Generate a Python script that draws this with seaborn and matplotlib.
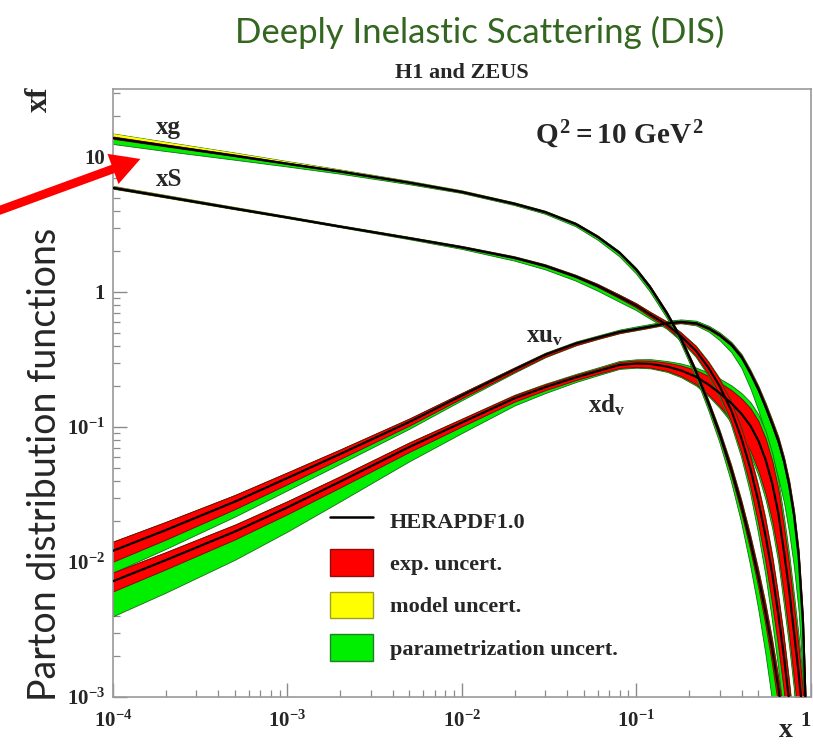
import numpy as np
import pandas as pd
import matplotlib
matplotlib.use("Agg")
import matplotlib.pyplot as plt
import seaborn as sns
from matplotlib.lines import Line2D
from matplotlib.patches import Patch
from matplotlib.ticker import LogLocator, NullFormatter

# ---- HERAPDF1.0 parton distributions at Q^2 = 10 GeV^2 ----
x_grid = [1e-4, 2e-4, 5e-4, 1e-3, 2e-3, 5e-3, 0.01, 0.02, 0.03, 0.045, 0.06,
          0.08, 0.1, 0.12, 0.15, 0.18, 0.22, 0.26, 0.3, 0.35, 0.4, 0.45, 0.5,
          0.55, 0.6, 0.65, 0.7, 0.75, 0.8, 0.85, 0.9, 0.95]

# gluon
xg_central = [13.8, 12.1, 10.2, 8.9, 7.8, 6.45, 5.5, 4.5, 3.9, 3.18, 2.56,
              1.95, 1.46, 1.08, 0.69, 0.45, 0.255, 0.148, 0.089, 0.048, 0.026,
              0.0141, 0.0077, 0.0042, 0.00224, 0.00117, 0.0006, 0.0003,
              0.00015, 7e-5, 3e-5, 1e-5]
xg_exp = [0.02, 0.018, 0.015, 0.013, 0.012, 0.012, 0.012, 0.012, 0.012,
          0.013, 0.014, 0.016, 0.02, 0.023, 0.027, 0.03, 0.04, 0.05, 0.06,
          0.08, 0.1, 0.12, 0.14, 0.17, 0.2, 0.23, 0.26, 0.3, 0.32, 0.35, 0.35,
          0.35]
xg_mod_dn = [0.01, 0.01, 0.01, 0.01, 0.01, 0.01, 0.01, 0.01, 0.01, 0.01,
             0.01, 0.01, 0.01, 0.01, 0.01, 0.01, 0.02, 0.02, 0.02, 0.03, 0.03,
             0.03, 0.04, 0.04, 0.04, 0.05, 0.05, 0.05, 0.05, 0.05, 0.05, 0.05]
xg_mod_up = [0.07, 0.06, 0.045, 0.035, 0.025, 0.018, 0.015, 0.01, 0.01,
             0.01, 0.01, 0.01, 0.01, 0.01, 0.01, 0.015, 0.02, 0.03, 0.04,
             0.05, 0.05, 0.06, 0.07, 0.08, 0.09, 0.1, 0.1, 0.1, 0.1, 0.1, 0.1,
             0.1]
xg_par_dn = [0.10, 0.09, 0.07, 0.05, 0.04, 0.03, 0.02, 0.025, 0.03, 0.04,
             0.05, 0.06, 0.065, 0.07, 0.07, 0.07, 0.08, 0.1, 0.12, 0.16, 0.22,
             0.3, 0.38, 0.46, 0.53, 0.6, 0.65, 0.68, 0.7, 0.7, 0.7, 0.7]
xg_par_up = [0.01, 0.01, 0.01, 0.01, 0.01, 0.01, 0.01, 0.01, 0.01, 0.01,
             0.01, 0.01, 0.01, 0.01, 0.01, 0.01, 0.02, 0.02, 0.03, 0.03, 0.04,
             0.05, 0.06, 0.07, 0.08, 0.09, 0.1, 0.1, 0.1, 0.1, 0.1, 0.1]

# total sea
xS_central = [5.9, 5.07, 4.14, 3.56, 3.05, 2.5, 2.14, 1.79, 1.56, 1.30,
              1.11, 0.92, 0.79, 0.68, 0.57, 0.47, 0.365, 0.272, 0.2, 0.132,
              0.082, 0.049, 0.028, 0.0155, 0.0082, 0.0041, 0.002, 0.00093,
              0.00042, 0.00018, 7e-5, 2e-5]
xS_exp = [0.015, 0.014, 0.012, 0.01, 0.01, 0.01, 0.012, 0.015, 0.018, 0.02,
          0.025, 0.03, 0.035, 0.04, 0.05, 0.06, 0.08, 0.1, 0.13, 0.17, 0.21,
          0.25, 0.3, 0.34, 0.38, 0.4, 0.42, 0.44, 0.45, 0.45, 0.45, 0.45]
xS_mod_dn = [0.01, 0.01, 0.01, 0.01, 0.01, 0.01, 0.01, 0.01, 0.01, 0.01,
             0.01, 0.01, 0.01, 0.01, 0.01, 0.01, 0.02, 0.02, 0.02, 0.03, 0.03,
             0.03, 0.04, 0.04, 0.04, 0.05, 0.05, 0.05, 0.05, 0.05, 0.05, 0.05]
xS_mod_up = [0.02, 0.018, 0.015, 0.012, 0.01, 0.01, 0.01, 0.01, 0.01, 0.01,
             0.01, 0.01, 0.01, 0.015, 0.02, 0.02, 0.03, 0.04, 0.05, 0.06,
             0.07, 0.08, 0.09, 0.1, 0.1, 0.1, 0.1, 0.1, 0.1, 0.1, 0.1, 0.1]
xS_par_dn = [0.01, 0.01, 0.01, 0.01, 0.01, 0.02, 0.03, 0.05, 0.06, 0.07,
             0.08, 0.08, 0.07, 0.06, 0.05, 0.05, 0.06, 0.08, 0.1, 0.13, 0.17,
             0.22, 0.28, 0.33, 0.38, 0.42, 0.45, 0.47, 0.5, 0.5, 0.5, 0.5]
xS_par_up = [0.01, 0.01, 0.01, 0.01, 0.01, 0.01, 0.01, 0.01, 0.01, 0.01,
             0.01, 0.01, 0.01, 0.01, 0.01, 0.02, 0.03, 0.04, 0.05, 0.06, 0.08,
             0.1, 0.12, 0.14, 0.16, 0.18, 0.2, 0.2, 0.2, 0.2, 0.2, 0.2]

# u valence
xuv_central = [0.0121, 0.0172, 0.028, 0.0419, 0.063, 0.109, 0.171, 0.266,
               0.342, 0.415, 0.459, 0.506, 0.532, 0.555, 0.586, 0.6, 0.586,
               0.537, 0.479, 0.407, 0.33, 0.251, 0.19, 0.141, 0.105, 0.079,
               0.056, 0.037, 0.022, 0.011, 0.0035, 0.0004]
xuv_exp = [0.17, 0.15, 0.12, 0.1, 0.08, 0.06, 0.045, 0.035, 0.03, 0.025,
           0.02, 0.018, 0.016, 0.015, 0.015, 0.015, 0.017, 0.02, 0.022, 0.025,
           0.03, 0.035, 0.04, 0.045, 0.05, 0.055, 0.06, 0.07, 0.08, 0.1, 0.12,
           0.15]
xuv_mod_dn = [0.01, 0.01, 0.01, 0.01, 0.01, 0.01, 0.01, 0.01, 0.01, 0.01,
              0.01, 0.01, 0.01, 0.01, 0.01, 0.01, 0.01, 0.01, 0.01, 0.01,
              0.01, 0.02, 0.02, 0.02, 0.02, 0.02, 0.02, 0.02, 0.02, 0.02,
              0.02, 0.02]
xuv_mod_up = [0.01, 0.01, 0.01, 0.01, 0.01, 0.01, 0.01, 0.01, 0.01, 0.01,
              0.01, 0.01, 0.01, 0.01, 0.01, 0.01, 0.01, 0.01, 0.01, 0.01,
              0.01, 0.02, 0.02, 0.02, 0.02, 0.02, 0.02, 0.02, 0.02, 0.02,
              0.02, 0.02]
xuv_par_dn = [0.26, 0.23, 0.19, 0.16, 0.13, 0.09, 0.06, 0.035, 0.025, 0.015,
              0.01, 0.01, 0.01, 0.01, 0.01, 0.015, 0.03, 0.05, 0.08, 0.12,
              0.17, 0.23, 0.3, 0.36, 0.42, 0.47, 0.5, 0.55, 0.58, 0.6, 0.6,
              0.6]
xuv_par_up = [0.01, 0.01, 0.01, 0.01, 0.01, 0.01, 0.01, 0.015, 0.02, 0.025,
              0.03, 0.035, 0.04, 0.04, 0.04, 0.04, 0.04, 0.04, 0.04, 0.04,
              0.04, 0.04, 0.04, 0.05, 0.05, 0.05, 0.05, 0.05, 0.05, 0.05,
              0.05, 0.05]

# d valence
xdv_central = [0.0072, 0.0103, 0.0168, 0.0254, 0.0393, 0.0711, 0.108, 0.163,
               0.197, 0.233, 0.259, 0.288, 0.295, 0.293, 0.28, 0.262, 0.235,
               0.205, 0.178, 0.15, 0.125, 0.102, 0.079, 0.057, 0.038, 0.023,
               0.012, 0.0062, 0.003, 0.0015, 0.0007, 0.0002]
xdv_exp = [0.16, 0.145, 0.125, 0.11, 0.095, 0.08, 0.065, 0.055, 0.05, 0.045,
           0.045, 0.05, 0.055, 0.06, 0.07, 0.09, 0.12, 0.16, 0.2, 0.25, 0.3,
           0.35, 0.4, 0.44, 0.47, 0.5, 0.52, 0.54, 0.55, 0.55, 0.55, 0.55]
xdv_mod_dn = [0.01, 0.01, 0.01, 0.01, 0.01, 0.01, 0.01, 0.01, 0.01, 0.01,
              0.01, 0.01, 0.01, 0.01, 0.01, 0.01, 0.02, 0.02, 0.02, 0.03,
              0.03, 0.03, 0.04, 0.04, 0.04, 0.05, 0.05, 0.05, 0.05, 0.05,
              0.05, 0.05]
xdv_mod_up = [0.01, 0.01, 0.01, 0.01, 0.01, 0.01, 0.01, 0.01, 0.01, 0.01,
              0.01, 0.01, 0.01, 0.01, 0.01, 0.01, 0.02, 0.02, 0.02, 0.03,
              0.03, 0.03, 0.04, 0.04, 0.04, 0.05, 0.05, 0.05, 0.05, 0.05,
              0.05, 0.05]
xdv_par_dn = [0.42, 0.4, 0.36, 0.32, 0.27, 0.2, 0.15, 0.1, 0.08, 0.06, 0.05,
              0.04, 0.04, 0.04, 0.05, 0.06, 0.07, 0.08, 0.1, 0.12, 0.15, 0.18,
              0.2, 0.22, 0.25, 0.27, 0.3, 0.3, 0.3, 0.3, 0.3, 0.3]
xdv_par_up = [0.02, 0.02, 0.02, 0.02, 0.02, 0.02, 0.02, 0.03, 0.035, 0.04,
              0.045, 0.05, 0.05, 0.06, 0.07, 0.09, 0.12, 0.16, 0.2, 0.25, 0.3,
              0.35, 0.4, 0.45, 0.5, 0.55, 0.6, 0.65, 0.7, 0.7, 0.7, 0.7]

pdf_names = ["xuv", "xdv", "xS", "xg"]
x_tick_vals = [1e-4, 1e-3, 1e-2, 1e-1, 1]
x_tick_labels = [r"$10^{-4}$", r"$10^{-3}$", r"$10^{-2}$", r"$10^{-1}$", "1"]
y_tick_vals = [1e-3, 1e-2, 1e-1, 1, 10]
y_tick_labels = [r"$10^{-3}$", r"$10^{-2}$", r"$10^{-1}$", "1", "10"]

RED = "#ff0000"
YELLOW = "#ffff00"
GREEN = "#00ee00"

sns.set_theme(style="ticks")
plt.rcParams["font.family"] = ["Liberation Serif", "DejaVu Serif"]
plt.rcParams["font.weight"] = "bold"
plt.rcParams["mathtext.fontset"] = "custom"
plt.rcParams["mathtext.rm"] = "Liberation Serif:bold"
plt.rcParams["mathtext.it"] = "Liberation Serif:bold"
plt.rcParams["mathtext.bf"] = "Liberation Serif:bold"

fig = plt.figure(figsize=(8.13, 7.5), dpi=100)
ax = fig.add_axes([0.139, 0.0707, 0.8585, 0.8107])
ax.set_xscale("log")
ax.set_yscale("log")

bands = {
    "xg": (xg_central, xg_exp, xg_mod_dn, xg_mod_up, xg_par_dn, xg_par_up),
    "xS": (xS_central, xS_exp, xS_mod_dn, xS_mod_up, xS_par_dn, xS_par_up),
    "xuv": (xuv_central, xuv_exp, xuv_mod_dn, xuv_mod_up, xuv_par_dn, xuv_par_up),
    "xdv": (xdv_central, xdv_exp, xdv_mod_dn, xdv_mod_up, xdv_par_dn, xdv_par_up),
}

x = np.array(x_grid)
rows = []
for name in pdf_names:
    c, e, md, mu, pdn, pup = (np.array(a, dtype=float) for a in bands[name])
    # uncertainties are combined in quadrature: exp -> +model -> +parametrisation
    lo_exp, hi_exp = c * (1 - np.minimum(e, 0.9)), c * (1 + e)
    lo_mod = c * (1 - np.minimum(np.sqrt(e**2 + md**2), 0.9))
    hi_mod = c * (1 + np.sqrt(e**2 + mu**2))
    lo_tot = c * (1 - np.minimum(np.sqrt(e**2 + md**2 + pdn**2), 0.9))
    hi_tot = c * (1 + np.sqrt(e**2 + mu**2 + pup**2))
    ax.fill_between(x, lo_tot, hi_tot, color=GREEN, lw=0.6, edgecolor="#1a6a1a")
    ax.fill_between(x, lo_mod, hi_mod, color=YELLOW, lw=0)
    ax.fill_between(x, lo_exp, hi_exp, color=RED, lw=0.6, edgecolor="#6a0000")
    for xi, ci in zip(x_grid, c):
        rows.append({"x": xi, "xf": ci, "pdf": name})

df = pd.DataFrame(rows)
sns.lineplot(data=df, x="x", y="xf", units="pdf", estimator=None,
             color="black", lw=1.6, sort=False, ax=ax, zorder=5)

ax.set_xlim(1e-4, 1)
ax.set_ylim(1e-3, 31.9)
ax.set_xlabel("")
ax.set_ylabel("")

ax.set_xticks(x_tick_vals)
ax.set_xticklabels(x_tick_labels)
ax.get_xticklabels()[-1].set_horizontalalignment("right")
ax.set_yticks(y_tick_vals)
ax.set_yticklabels(y_tick_labels)
ax.xaxis.set_minor_locator(LogLocator(base=10, subs=np.arange(2, 10)))
ax.yaxis.set_minor_locator(LogLocator(base=10, subs=np.arange(2, 10)))
ax.xaxis.set_minor_formatter(NullFormatter())
ax.yaxis.set_minor_formatter(NullFormatter())
ax.tick_params(which="major", direction="in", length=10, width=1.0,
               color="#8a8a8a", labelsize=15, pad=6)
ax.tick_params(axis="x", which="major", pad=10)
ax.tick_params(which="minor", direction="in", length=5, width=0.9,
               color="#8a8a8a")
for sp in ax.spines.values():
    sp.set_color("#9a9a9a")
    sp.set_linewidth(1.2)

# curve labels
lab_kw = dict(fontsize=18, fontweight="bold", ha="center", va="center", zorder=6)
ax.text(2.07e-4, 16.4, "xg", **lab_kw)
ax.text(2.09e-4, 6.8, "xS", **lab_kw)
ax.text(0.0297, 0.47, r"$xu_v$", **lab_kw)
ax.text(0.0673, 0.146, r"$xd_v$", **lab_kw)
ax.text(0.726, 0.924, r"$Q^2 = 10\ GeV^2$", transform=ax.transAxes,
        fontsize=21, ha="center", va="center")

# legend
handles = [
    Line2D([], [], color="black", lw=1.8),
    Patch(facecolor=RED, edgecolor="#8a1010", lw=1),
    Patch(facecolor=YELLOW, edgecolor="#a0a020", lw=1),
    Patch(facecolor=GREEN, edgecolor="#20802a", lw=1),
]
labels = ["HERAPDF1.0", "exp. uncert.", "model uncert.", "parametrization uncert."]
ax.legend(handles, labels, loc="upper left", bbox_to_anchor=(0.311, 0.3125),
          frameon=False, handlelength=1.95, handleheight=1.45,
          labelspacing=0.72, handletextpad=0.75, borderpad=0, borderaxespad=0,
          prop={"family": "Liberation Serif", "weight": "bold", "size": 16})

# figure texts
fig.text(0.590, 0.957, "Deeply Inelastic Scattering (DIS)", color="#33661e",
         fontsize=25, fontweight="normal", family=["Lato", "DejaVu Sans"],
         ha="center", va="center")
fig.text(0.568, 0.903, "H1 and ZEUS", fontsize=16, fontweight="bold",
         ha="center", va="center")
fig.text(0.049, 0.867, "xf", fontsize=22, fontweight="bold", rotation=90,
         ha="center", va="center")
fig.text(0.055, 0.381, "Parton distribution functions", fontsize=27,
         fontweight="normal", family=["Lato", "DejaVu Sans"], rotation=90,
         ha="center", va="center")
fig.text(0.967, 0.026, "x", fontsize=20, fontweight="bold",
         ha="center", va="center")

# pointer arrow onto the gluon curve
ax.annotate("", xy=(143, 592), xytext=(-5, 538), xycoords="figure pixels",
            textcoords="figure pixels", annotation_clip=False,
            arrowprops=dict(arrowstyle="simple,head_length=1.0,head_width=1.1,tail_width=0.3",
                            color="#ff0000", mutation_scale=21, lw=0))

fig.savefig("out.png", dpi=100)
